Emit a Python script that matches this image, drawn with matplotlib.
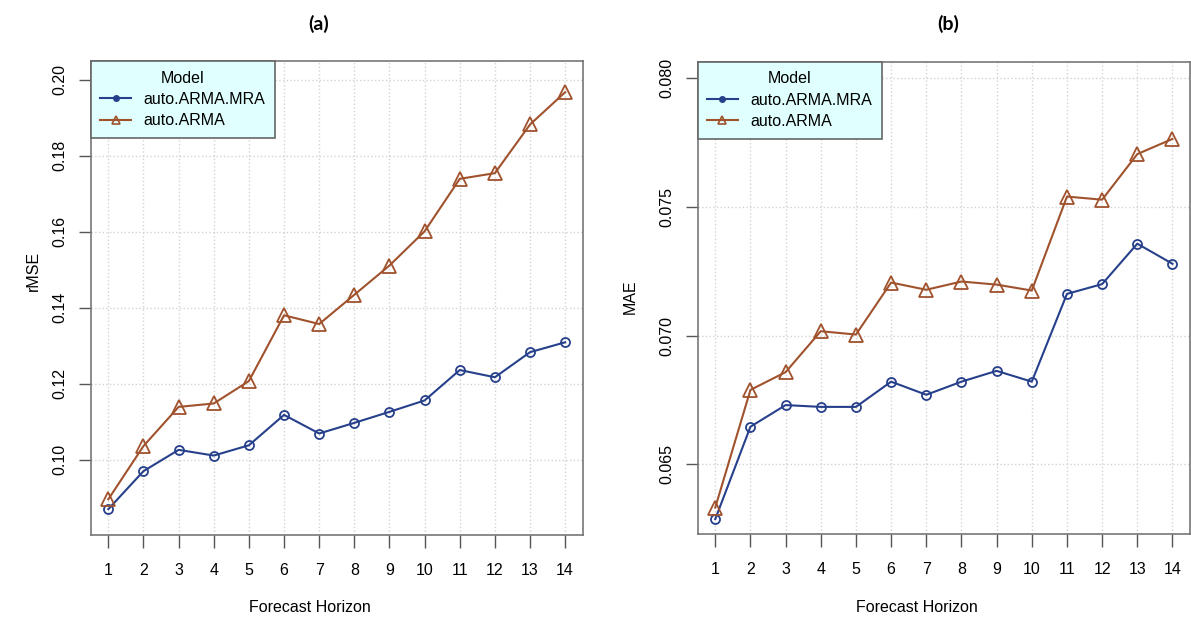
import numpy as np
import matplotlib.pyplot as plt
from matplotlib.lines import Line2D

# --- Data ---
horizon = np.arange(1, 15)

rmse_mra = [0.0870, 0.0970, 0.1026, 0.1011, 0.1038, 0.1118, 0.1069,
            0.1097, 0.1126, 0.1156, 0.1236, 0.1217, 0.1283, 0.1309]
rmse_arma = [0.0896, 0.1036, 0.1139, 0.1148, 0.1207, 0.1380, 0.1357,
             0.1434, 0.1511, 0.1601, 0.1739, 0.1754, 0.1882, 0.1967]

mae_mra = [0.06287, 0.06646, 0.06730, 0.06723, 0.06723, 0.06821, 0.06770,
           0.06821, 0.06863, 0.06821, 0.07162, 0.07200, 0.07357, 0.07279]
mae_arma = [0.06332, 0.06789, 0.06858, 0.07017, 0.07004, 0.07206, 0.07178,
            0.07210, 0.07198, 0.07175, 0.07540, 0.07528, 0.07705, 0.07764]

rmse_ticks = [0.10, 0.12, 0.14, 0.16, 0.18, 0.20]
mae_ticks = [0.065, 0.070, 0.075, 0.080]

models = ["auto.ARMA.MRA", "auto.ARMA"]
c_mra = "#27408B"     # royalblue4
c_arma = "#A0522D"    # sienna

plt.rcParams['font.family'] = ['Liberation Sans', 'DejaVu Sans']

fig = plt.figure(figsize=(11.91, 6.20), dpi=100)
ax1 = fig.add_axes([0.0762, 0.1371, 0.4131, 0.7645])
ax2 = fig.add_axes([0.5858, 0.1382, 0.4134, 0.7623])


def draw_panel(ax, mra, arma, yticks, ylim, fmt):
    ax.plot(horizon, mra, color=c_mra, lw=1.5, marker='o', ms=6.5,
            mfc='none', mew=1.3, zorder=3)
    ax.plot(horizon, arma, color=c_arma, lw=1.5, marker='^', ms=9.5,
            mfc='none', mew=1.3, zorder=3)
    ax.set_xlim(0.5, 14.5)
    ax.set_ylim(*ylim)
    ax.set_xticks(horizon)
    ax.set_yticks(yticks)
    ax.set_yticklabels([fmt.format(v) for v in yticks], rotation=90,
                       va='center')
    ax.tick_params(axis='both', labelsize=11.5, length=9, width=1,
                   color='#555555', direction='out', pad=8)
    ax.tick_params(axis='x', pad=11)
    ax.grid(True, color='#d3d3d3', linestyle=':', linewidth=1)
    ax.set_axisbelow(True)
    for s in ax.spines.values():
        s.set_color('#777777')
        s.set_linewidth(1.2)
    handles = [Line2D([], [], color=c_mra, lw=1.5, marker='o', ms=4,
                      mfc=c_mra),
               Line2D([], [], color=c_arma, lw=1.5, marker='^', ms=6,
                      mfc='none', mew=1.2)]
    leg = ax.legend(handles, models, title="Model", loc='upper left',
                    bbox_to_anchor=(0, 1), borderaxespad=0, fontsize=11.5,
                    title_fontsize=11.5, fancybox=False, framealpha=1,
                    facecolor='#e0ffff', edgecolor='#666666',
                    handlelength=1.9, handletextpad=0.8, borderpad=0.6,
                    labelspacing=0.4)
    leg.get_frame().set_linewidth(1.2)
    leg.set_zorder(5)


draw_panel(ax1, rmse_mra, rmse_arma, rmse_ticks, (0.0802, 0.2049), "{:.2f}")
draw_panel(ax2, mae_mra, mae_arma, mae_ticks, (0.06228, 0.08064), "{:.3f}")

# titles and axis labels
fig.text(319 / 1191, 1 - 24 / 620, "(a)", ha='center', va='center',
         fontsize=14, fontweight='bold', family=['Lato', 'DejaVu Sans'])
fig.text(948 / 1191, 1 - 24 / 620, "(b)", ha='center', va='center',
         fontsize=14, fontweight='bold', family=['Lato', 'DejaVu Sans'])
fig.text(310 / 1191, 1 - 608 / 620, "Forecast Horizon", ha='center',
         va='center', fontsize=11.5)
fig.text(917 / 1191, 1 - 608 / 620, "Forecast Horizon", ha='center',
         va='center', fontsize=11.5)
fig.text(33 / 1191, 1 - 271 / 620, "rMSE", ha='center', va='center',
         rotation=90, fontsize=11.5)
fig.text(630 / 1191, 1 - 297 / 620, "MAE", ha='center', va='center',
         rotation=90, fontsize=11.5)

fig.savefig("out.png", dpi=100)
